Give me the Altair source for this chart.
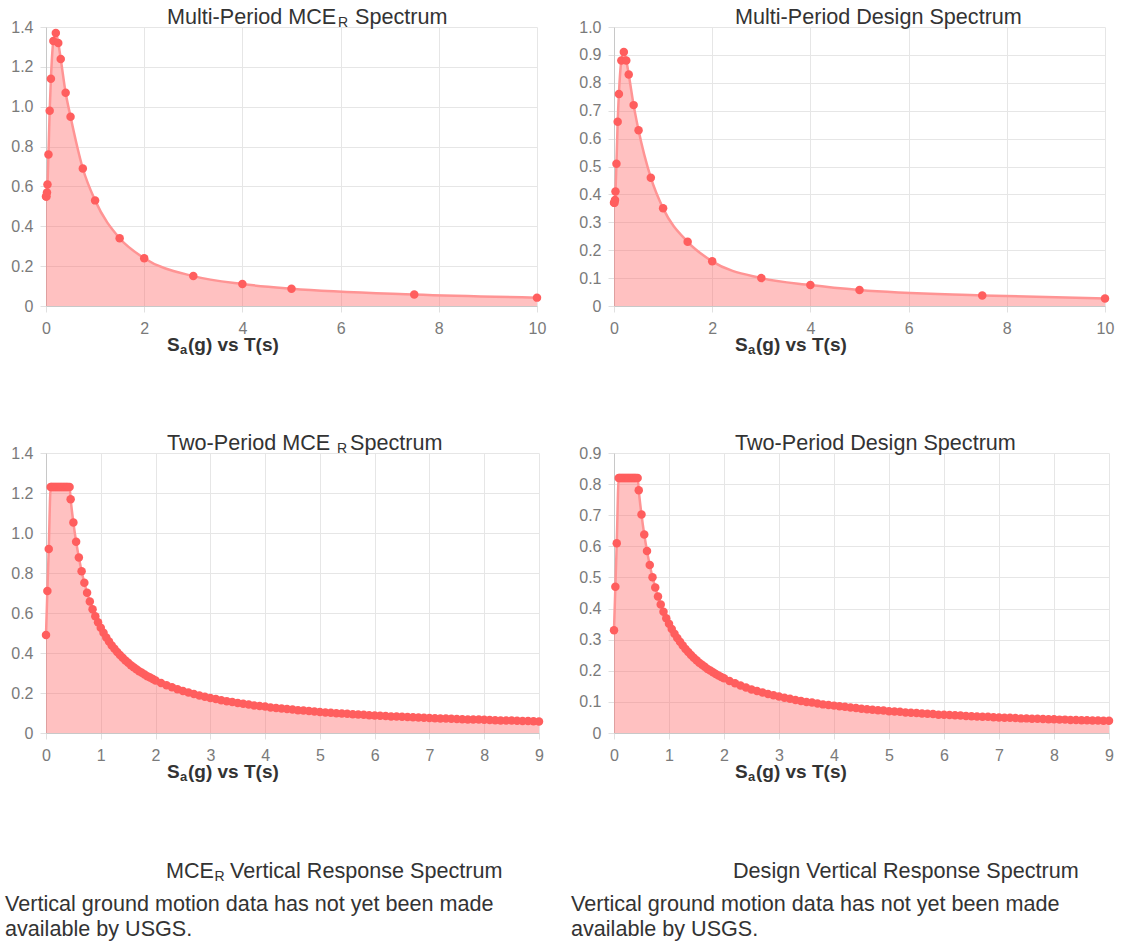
import altair as alt
import pandas as pd

FONT = "Liberation Sans"
TEXT = "#333333"
RED = "rgb(255,99,99)"
LINE_C = "#ff9494"
PT_C = "#ff5e5e"

# ---------------- data ----------------
MP_T = [0, 0.01, 0.02, 0.03, 0.05, 0.075, 0.1, 0.15, 0.2, 0.25, 0.3, 0.4, 0.5,
        0.75, 1, 1.5, 2, 3, 4, 5, 7.5, 10]
MP_MCER = [0.55, 0.55, 0.57, 0.61, 0.76, 0.98, 1.14, 1.33, 1.37, 1.32, 1.24, 1.07,
           0.95, 0.69, 0.53, 0.34, 0.24, 0.15, 0.11, 0.087, 0.058, 0.042]
MP_DESIGN = [0.37, 0.37, 0.38, 0.41, 0.51, 0.66, 0.76, 0.88, 0.91, 0.88, 0.83, 0.72,
             0.63, 0.46, 0.35, 0.23, 0.16, 0.10, 0.075, 0.057, 0.038, 0.027]

TP_T = [0, 0.025, 0.05,
        0.086, 0.10, 0.12, 0.14, 0.16, 0.18, 0.20, 0.22, 0.24, 0.26, 0.28, 0.30,
        0.32, 0.34, 0.36, 0.38, 0.40, 0.43,
        0.45, 0.50, 0.55, 0.60, 0.65, 0.70, 0.75, 0.80, 0.85, 0.90, 0.95, 1.00,
        1.05, 1.10, 1.15, 1.20, 1.25, 1.30, 1.35, 1.40, 1.45, 1.50, 1.55, 1.60,
        1.65, 1.70, 1.75, 1.80, 1.85, 1.90, 1.95, 2.00,
        2.1, 2.2, 2.3, 2.4, 2.5, 2.6, 2.7, 2.8, 2.9, 3.0,
        3.1, 3.2, 3.3, 3.4, 3.5, 3.6, 3.7, 3.8, 3.9, 4.0,
        4.1, 4.2, 4.3, 4.4, 4.5, 4.6, 4.7, 4.8, 4.9, 5.0,
        5.1, 5.2, 5.3, 5.4, 5.5, 5.6, 5.7, 5.8, 5.9, 6.0,
        6.1, 6.2, 6.3, 6.4, 6.5, 6.6, 6.7, 6.8, 6.9, 7.0,
        7.1, 7.2, 7.3, 7.4, 7.5, 7.6, 7.7, 7.8, 7.9, 8.0,
        8.1, 8.2, 8.3, 8.4, 8.5, 8.6, 8.7, 8.8, 8.9, 9.0]
TP_MCER = [0.49, 0.71, 0.92,
           1.23, 1.23, 1.23, 1.23, 1.23, 1.23, 1.23, 1.23, 1.23, 1.23, 1.23, 1.23,
           1.23, 1.23, 1.23, 1.23, 1.23, 1.23,
           1.169, 1.052, 0.956, 0.877, 0.809, 0.751, 0.701, 0.658, 0.619, 0.584,
           0.554, 0.526, 0.501, 0.478, 0.457, 0.438, 0.421, 0.405, 0.390, 0.376,
           0.363, 0.351, 0.339, 0.329, 0.319, 0.309, 0.301, 0.292, 0.284, 0.277,
           0.270, 0.263,
           0.250, 0.239, 0.229, 0.219, 0.210, 0.202, 0.195, 0.188, 0.181, 0.175,
           0.170, 0.164, 0.159, 0.155, 0.150, 0.146, 0.142, 0.138, 0.135, 0.132,
           0.128, 0.125, 0.122, 0.120, 0.117, 0.114, 0.112, 0.110, 0.107, 0.105,
           0.103, 0.101, 0.099, 0.097, 0.096, 0.094, 0.092, 0.091, 0.089, 0.088,
           0.086, 0.085, 0.083, 0.082, 0.081, 0.080, 0.079, 0.077, 0.076, 0.075,
           0.074, 0.073, 0.072, 0.071, 0.070, 0.069, 0.068, 0.067, 0.067, 0.066,
           0.065, 0.064, 0.063, 0.063, 0.062, 0.061, 0.060, 0.060, 0.059, 0.058]
TP_DESIGN = [0.33, 0.47, 0.61,
             0.82, 0.82, 0.82, 0.82, 0.82, 0.82, 0.82, 0.82, 0.82, 0.82, 0.82, 0.82,
             0.82, 0.82, 0.82, 0.82, 0.82, 0.82,
             0.780, 0.702, 0.638, 0.585, 0.540, 0.501, 0.468, 0.439, 0.413, 0.390,
             0.369, 0.351, 0.334, 0.319, 0.305, 0.293, 0.281, 0.270, 0.260, 0.251,
             0.242, 0.234, 0.226, 0.219, 0.213, 0.206, 0.201, 0.195, 0.190, 0.185,
             0.180, 0.176,
             0.167, 0.160, 0.153, 0.146, 0.140, 0.135, 0.130, 0.125, 0.121, 0.117,
             0.113, 0.110, 0.106, 0.103, 0.100, 0.098, 0.095, 0.092, 0.090, 0.088,
             0.086, 0.084, 0.082, 0.080, 0.078, 0.076, 0.075, 0.073, 0.072, 0.070,
             0.069, 0.068, 0.066, 0.065, 0.064, 0.063, 0.062, 0.061, 0.059, 0.059,
             0.058, 0.057, 0.056, 0.055, 0.054, 0.053, 0.052, 0.052, 0.051, 0.050,
             0.049, 0.049, 0.048, 0.047, 0.047, 0.046, 0.046, 0.045, 0.044, 0.044,
             0.043, 0.043, 0.042, 0.042, 0.041, 0.041, 0.040, 0.040, 0.039, 0.039]

X_TICKS_10 = [0, 2, 4, 6, 8, 10]
X_TICKS_9 = [0, 1, 2, 3, 4, 5, 6, 7, 8, 9]
Y_TICKS_14 = [0, 0.2, 0.4, 0.6, 0.8, 1.0, 1.2, 1.4]
Y_TICKS_10 = [0, 0.1, 0.2, 0.3, 0.4, 0.5, 0.6, 0.7, 0.8, 0.9, 1.0]
Y_TICKS_09 = [0, 0.1, 0.2, 0.3, 0.4, 0.5, 0.6, 0.7, 0.8, 0.9]

NOTE_1 = "Vertical ground motion data has not yet been made"
NOTE_2 = "available by USGS."

LABEL_EXPR = "datum.value == 0 ? '0' : format(datum.value, '.1f')"


def txt(s, x, y, size=21.6, weight="normal", color=TEXT):
    return alt.Chart(pd.DataFrame({"s": [s]})).mark_text(
        align="left", baseline="alphabetic", font=FONT, fontSize=size,
        fontWeight=weight, color=color
    ).encode(x=alt.value(x), y=alt.value(y), text="s:N")


def xtitle(h):
    return [
        txt("S", 121, h + 45, 19, "bold"),
        txt("a", 134, h + 47.5, 13, "bold"),
        txt("(g) vs T(s)", 142, h + 45, 19, "bold"),
    ]


def panel(T, V, ymax, yticks, xmax, xticks, w, h, titles):
    df = pd.DataFrame({"T": T, "Sa": V})
    base = alt.Chart(df)
    xenc = alt.X("T:Q", scale=alt.Scale(domain=[0, xmax], nice=False, zero=False),
                 axis=alt.Axis(values=xticks, tickCount=40, format="d", title=None,
                               labelFlush=False, labelOverlap=False, labelPadding=8))
    yenc = alt.Y("Sa:Q", scale=alt.Scale(domain=[0, ymax], nice=False, zero=False),
                 axis=alt.Axis(values=yticks, tickCount=40, title=None,
                               labelExpr=LABEL_EXPR, labelFlush=False,
                               labelOverlap=False, labelPadding=7))
    area = base.mark_area(color=RED, fillOpacity=0.4, interpolate="monotone").encode(
        x=xenc, y=yenc)
    line = base.mark_line(color=LINE_C, strokeWidth=2.5, interpolate="monotone").encode(
        x=xenc, y=yenc)
    pts = base.mark_circle(size=72, color=PT_C, opacity=1).encode(x=xenc, y=yenc)
    return alt.layer(area, line, pts, *titles, *xtitle(h)).properties(width=w, height=h)


TL = panel(MP_T, MP_MCER, 1.4, Y_TICKS_14, 10, X_TICKS_10, 491, 279, [
    txt("Multi-Period MCE", 121, -3),
    txt("R", 292, -0.5, 14),
    txt("Spectrum", 309, -3),
])
TR = panel(MP_T, MP_DESIGN, 1.0, Y_TICKS_10, 10, X_TICKS_10, 491, 279, [
    txt("Multi-Period Design Spectrum", 121, -3),
])
BL = panel(TP_T, TP_MCER, 1.4, Y_TICKS_14, 9, X_TICKS_9, 493, 280, [
    txt("Two-Period MCE", 121, -3),
    txt("R", 291, -0.5, 14),
    txt("Spectrum", 304, -3),
])
BR = panel(TP_T, TP_DESIGN, 0.9, Y_TICKS_09, 9, X_TICKS_9, 495, 280, [
    txt("Two-Period Design Spectrum", 121, -3),
])

TXL = alt.layer(
    txt("MCE", 120, -2),
    txt("R", 168.5, 0.5, 14),
    txt("Vertical Response Spectrum", 184, -2),
    txt(NOTE_1, -41, 31),
    txt(NOTE_2, -41, 56),
).properties(width=493, height=40)
TXR = alt.layer(
    txt("Design Vertical Response Spectrum", 119, -2),
    txt(NOTE_1, -43, 31),
    txt(NOTE_2, -43, 56),
).properties(width=495, height=40)

chart = alt.concat(
    TL, TR, BL, BR, TXL, TXR, columns=2,
    spacing={"row": 147, "column": 75}, bounds="flush", align="each",
).properties(
    padding={"left": 5, "top": 7, "right": 2, "bottom": 2},
    background="white",
).configure_view(
    strokeWidth=0
).configure_axis(
    gridColor="#e6e6e6", gridWidth=1, domainColor="#c8c8c8", domainWidth=1,
    tickColor="#e0e0e0", tickSize=6, labelColor="#7a7a7a", labelFont=FONT,
    labelFontSize=16,
)

chart.save("out.html", embed_options={"renderer": "svg", "actions": False})
